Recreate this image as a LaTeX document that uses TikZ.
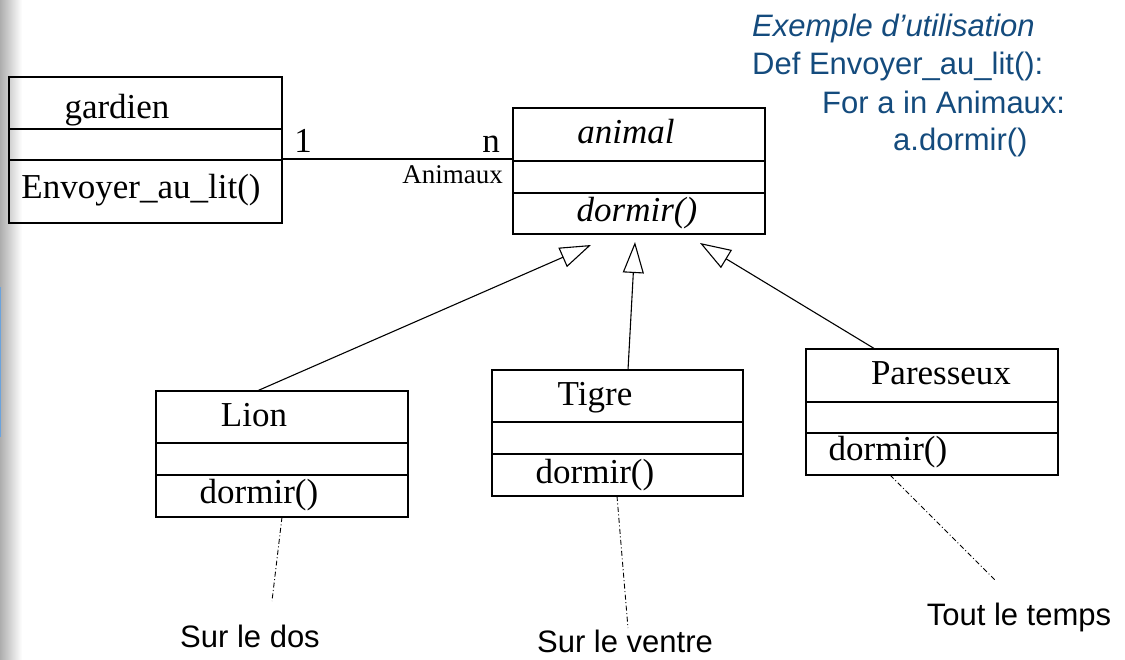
\documentclass[tikz,border=0pt]{standalone}
\usepackage{fontspec}
\setmainfont{Liberation Serif}
\newfontfamily\arialfont{Liberation Sans}
\usetikzlibrary{arrows.meta}
\definecolor{noteblue}{RGB}{20,75,125}
\begin{document}
\begin{tikzpicture}[x=1pt,y=-1pt,
  umlbox/.style={draw, line width=1.1pt, rectangle, inner sep=0pt},
  divider/.style={line width=1.1pt},
  sertext/.style={inner sep=0pt, anchor=base, font=\fontsize{35}{40}\selectfont},
  sansnote/.style={inner sep=0pt, anchor=base, font=\arialfont\fontsize{31}{37}\selectfont},
  bluenote/.style={inner sep=0pt, anchor=base west, text=noteblue, font=\arialfont\fontsize{31}{37}\selectfont},
  inherit/.style={line width=1.1pt, -{Triangle[open, length=31pt, width=21pt, line width=1.1pt]}},
  noteline/.style={line width=0.9pt, dash pattern=on 5pt off 2.5pt on 1pt off 2.5pt}
]
\useasboundingbox (0,0) rectangle (1125,659);
% left edge strip
\shade[left color=black!32, right color=white] (0,0) rectangle (22,659);
\fill[cyan!60!blue!60] (0,287) rectangle (1.2,437);

% boxes
\node[umlbox, minimum width=273pt, minimum height=146pt] (gardien) at (145.5,150) {};
\node[umlbox, minimum width=252pt, minimum height=126pt] (animal) at (639,171) {};
\node[umlbox, minimum width=252pt, minimum height=126pt] (lion) at (282,454) {};
\node[umlbox, minimum width=251pt, minimum height=126pt] (tigre) at (617.5,433) {};
\node[umlbox, minimum width=252pt, minimum height=126pt] (paresseux) at (932,412) {};

% compartments
\draw[divider] (9,129) -- (282,129);
\draw[divider] (9,160) -- (282,160);
\draw[divider] (513,161) -- (765,161);
\draw[divider] (513,193) -- (765,193);
\draw[divider] (156,443) -- (408,443);
\draw[divider] (156,475) -- (408,475);
\draw[divider] (492,422) -- (743,422);
\draw[divider] (492,454) -- (743,454);
\draw[divider] (806,402) -- (1058,402);
\draw[divider] (806,433) -- (1058,433);

% texts in boxes
\node[sertext] (tg1) at (117,118) {gardien};
\node[sertext] (tg2) at (141,198) {Envoyer\_au\_lit()};
\node[sertext] (ta1) at (626,143) {\itshape animal};
\node[sertext] (ta2) at (637,221) {\itshape dormir()};
\node[sertext] (tl1) at (254,426) {Lion};
\node[sertext] (tl2) at (259,503) {dormir()};
\node[sertext] (tt1) at (595,405) {Tigre};
\node[sertext] (tt2) at (595,483) {dormir()};
\node[sertext] (tp1) at (941,384) {Paresseux};
\node[sertext] (tp2) at (888,460) {dormir()};

% association
\coordinate (asc) at (0,159);
\draw[divider] (gardien.east |- asc) -- (animal.west |- asc);
\node[sertext] (m1) at (303,152) {1};
\node[sertext] (mn) at (491,152) {n};
\node[inner sep=0pt, anchor=base east, font=\fontsize{27}{30}\selectfont] (role) at (503,183) {Animaux};

% inheritance
\coordinate (tipL) at (591,245);
\coordinate (tipM) at (635,242);
\coordinate (tipR) at (700,243);
\coordinate (sL) at (257,391);
\coordinate (sM) at (628,370);
\coordinate (sR) at (875,349);
\draw[inherit] (sL) -- (tipL);
\draw[inherit] (sM) -- (tipM);
\draw[inherit] (sR) -- (tipR);

% notes
\node[sansnote] (n1) at (250,647) {Sur le dos};
\node[sansnote] (n2) at (625,652) {Sur le ventre};
\node[sansnote] (n3) at (1019,625) {Tout le temps};
\coordinate (eL) at (282,517);
\coordinate (eT) at (617,496);
\coordinate (eP) at (890,475);
\draw[noteline] (eL) -- (272,601);
\draw[noteline] (eT) -- (628,628);
\draw[noteline] (eP) -- (995,580);

% blue example
\node[bluenote] (b1) at (752,36) {\itshape Exemple d’utilisation};
\node[bluenote] (b2) at (752,74) {Def Envoyer\_au\_lit():};
\node[bluenote] (b3) at (822,113) {For a in Animaux:};
\node[bluenote] (b4) at (893,150) {a.dormir()};
\end{tikzpicture}
\end{document}
